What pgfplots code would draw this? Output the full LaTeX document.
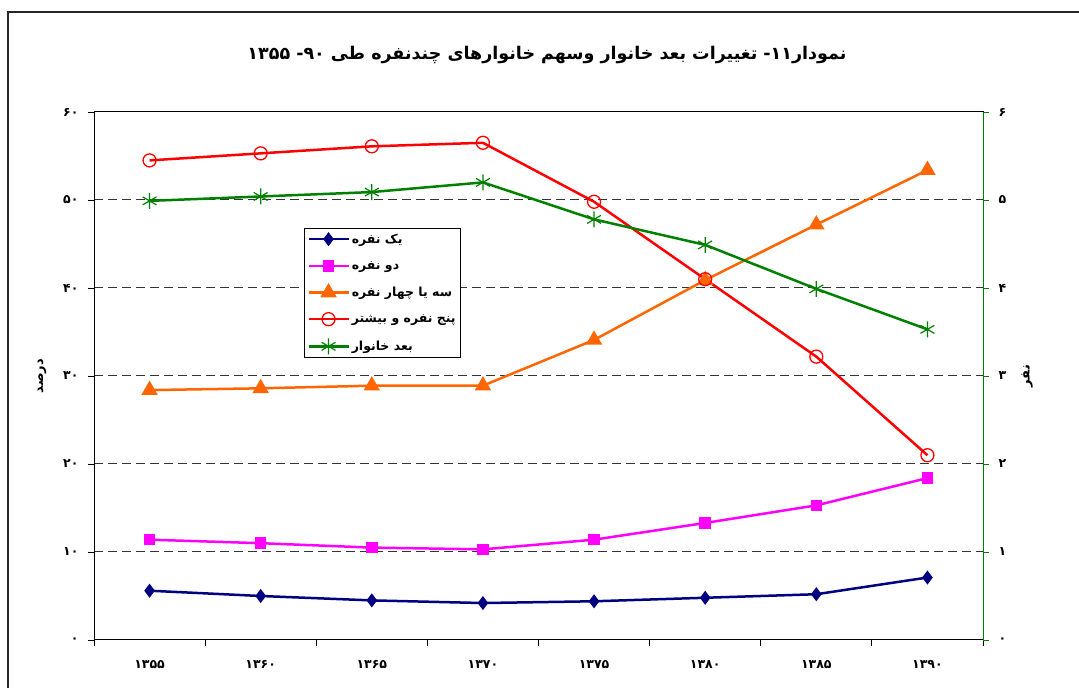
\documentclass[border=0pt]{standalone}
\usepackage{pgfplots}
\pgfplotsset{compat=1.18}
\usepackage{pgfplotstable}
\usepackage{fontspec}
\setmainfont{DejaVu Sans}
\newfontfamily\fa[Script=Arabic]{DejaVu Sans}
\TeXXeTstate=1
\definecolor{cnavy}{HTML}{000080}
\definecolor{cmag}{HTML}{FF00FF}
\definecolor{corange}{HTML}{FF6600}
\definecolor{cred}{HTML}{FF0000}
\definecolor{cgreen}{HTML}{008000}

\pgfplotstableread{
x a b c d e
0 5.6 11.4 28.4 54.5 4.99
1 5.0 11.0 28.6 55.3 5.04
2 4.5 10.5 28.9 56.1 5.09
3 4.2 10.3 28.9 56.5 5.20
4 4.4 11.4 34.1 49.8 4.78
5 4.8 13.3 40.9 41.0 4.49
6 5.2 15.3 47.2 32.2 3.99
7 7.1 18.4 53.4 21.0 3.53
}\data

\newcommand{\tickfont}{\fa\bfseries\fontsize{12.5}{14}\selectfont}

\begin{document}
\begin{tikzpicture}[x=1pt,y=1pt]
\useasboundingbox (0,0) rectangle (1079,688);
\draw[line width=1.5pt, black!85] (8,0) -- (8,676.75);
\draw[line width=1.5pt, black!85] (8,676) -- (1079,676);
\node[font=\fa\bfseries\fontsize{17.5}{20}\selectfont] at (547,633)
  {\beginR نمودار۱۱- تغییرات بعد خانوار وسهم خانوارهای چندنفره طی ۹۰- ۱۳۵۵\endR};
\node[rotate=90,font=\fa\bfseries\fontsize{13}{15}\selectfont] at (42,312) {\beginR درصد\endR};
\node[rotate=90,font=\fa\bfseries\fontsize{13}{15}\selectfont] at (1027,312) {\beginR نفر\endR};

\begin{axis}[
  at={(94pt,48pt)}, anchor=south west, scale only axis,
  width=889pt, height=528pt,
  xmin=-0.5, xmax=7.5, ymin=0, ymax=60,
  xtick={0,...,7},
  xticklabels={۱۳۵۵,۱۳۶۰,۱۳۶۵,۱۳۷۰,۱۳۷۵,۱۳۸۰,۱۳۸۵,۱۳۹۰},
  major x tick style={draw=none},
  minor xtick={-0.5,0.5,...,7.5},
  minor tick length=6pt, major tick length=6pt,
  ytick={0,10,...,60},
  yticklabels={۰,۱۰,۲۰,۳۰,۴۰,۵۰,۶۰},
  tick align=outside, tick pos=left,
  ymajorgrids,
  grid style={black!80, line width=1pt, dash pattern=on 9pt off 5pt},
  axis line style={line width=1pt, black},
  tick style={black, line width=0.8pt},
  ticklabel style={font=\tickfont},
  xticklabel style={yshift=-11pt},
  yticklabel style={xshift=-6pt},
  clip=false,
]
\addplot[cnavy, line width=2.5pt, mark=diamond*, mark size=5pt, mark options={solid, scale=1}] table[x=x,y=a]{\data};
\addplot[cmag, line width=2.5pt, mark=square*, mark size=4.5pt] table[x=x,y=b]{\data};
\addplot[corange, line width=2.5pt, mark=triangle*, mark size=7pt] table[x=x,y=c]{\data};
\addplot[cred, line width=2.5pt, mark=o, mark size=6.5pt, mark options={line width=1.3pt, fill=none}] table[x=x,y=d]{\data};
\end{axis}

\begin{axis}[
  at={(94pt,48pt)}, anchor=south west, scale only axis,
  width=889pt, height=528pt,
  xmin=-0.5, xmax=7.5, ymin=0, ymax=6,
  axis x line=none, axis y line*=right,
  ytick={0,...,6},
  yticklabels={۰,۱,۲,۳,۴,۵,۶},
  tick align=outside, major tick length=6pt,
  y axis line style={line width=1pt, cgreen},
  ytick style={cgreen, line width=0.8pt},
  yticklabel style={font=\tickfont, xshift=6pt},
  clip=false,
  legend style={at={(0.236,0.78)}, anchor=north west, draw=black, line width=1pt,
    font=\fa\bfseries\fontsize{12.5}{14}\selectfont, row sep=12.5pt, inner sep=3pt,
    nodes={inner sep=2pt}},
  legend cell align=left,
  legend image code/.code={\draw[mark repeat=2,mark phase=2] plot coordinates {(0pt,0pt) (20pt,0pt) (40pt,0pt)};},
]
\addlegendimage{cnavy, line width=2.5pt, mark=diamond*, mark size=5pt}
\addlegendentry{\beginR یک نفره\endR}
\addlegendimage{cmag, line width=2.5pt, mark=square*, mark size=4.5pt}
\addlegendentry{\beginR دو نفره\endR}
\addlegendimage{corange, line width=2.5pt, mark=triangle*, mark size=7pt}
\addlegendentry{\beginR سه یا چهار نفره\endR}
\addlegendimage{cred, line width=2.5pt, mark=o, mark size=6.5pt, mark options={line width=1.3pt}}
\addlegendentry{\beginR پنج نفره و بیشتر\endR}
\addplot[cgreen, line width=2.5pt, mark=asterisk, mark size=8pt, mark options={line width=1.2pt}] table[x=x,y=e]{\data};
\addlegendentry{\beginR بعد خانوار\endR}
\end{axis}
\end{tikzpicture}
\end{document}
